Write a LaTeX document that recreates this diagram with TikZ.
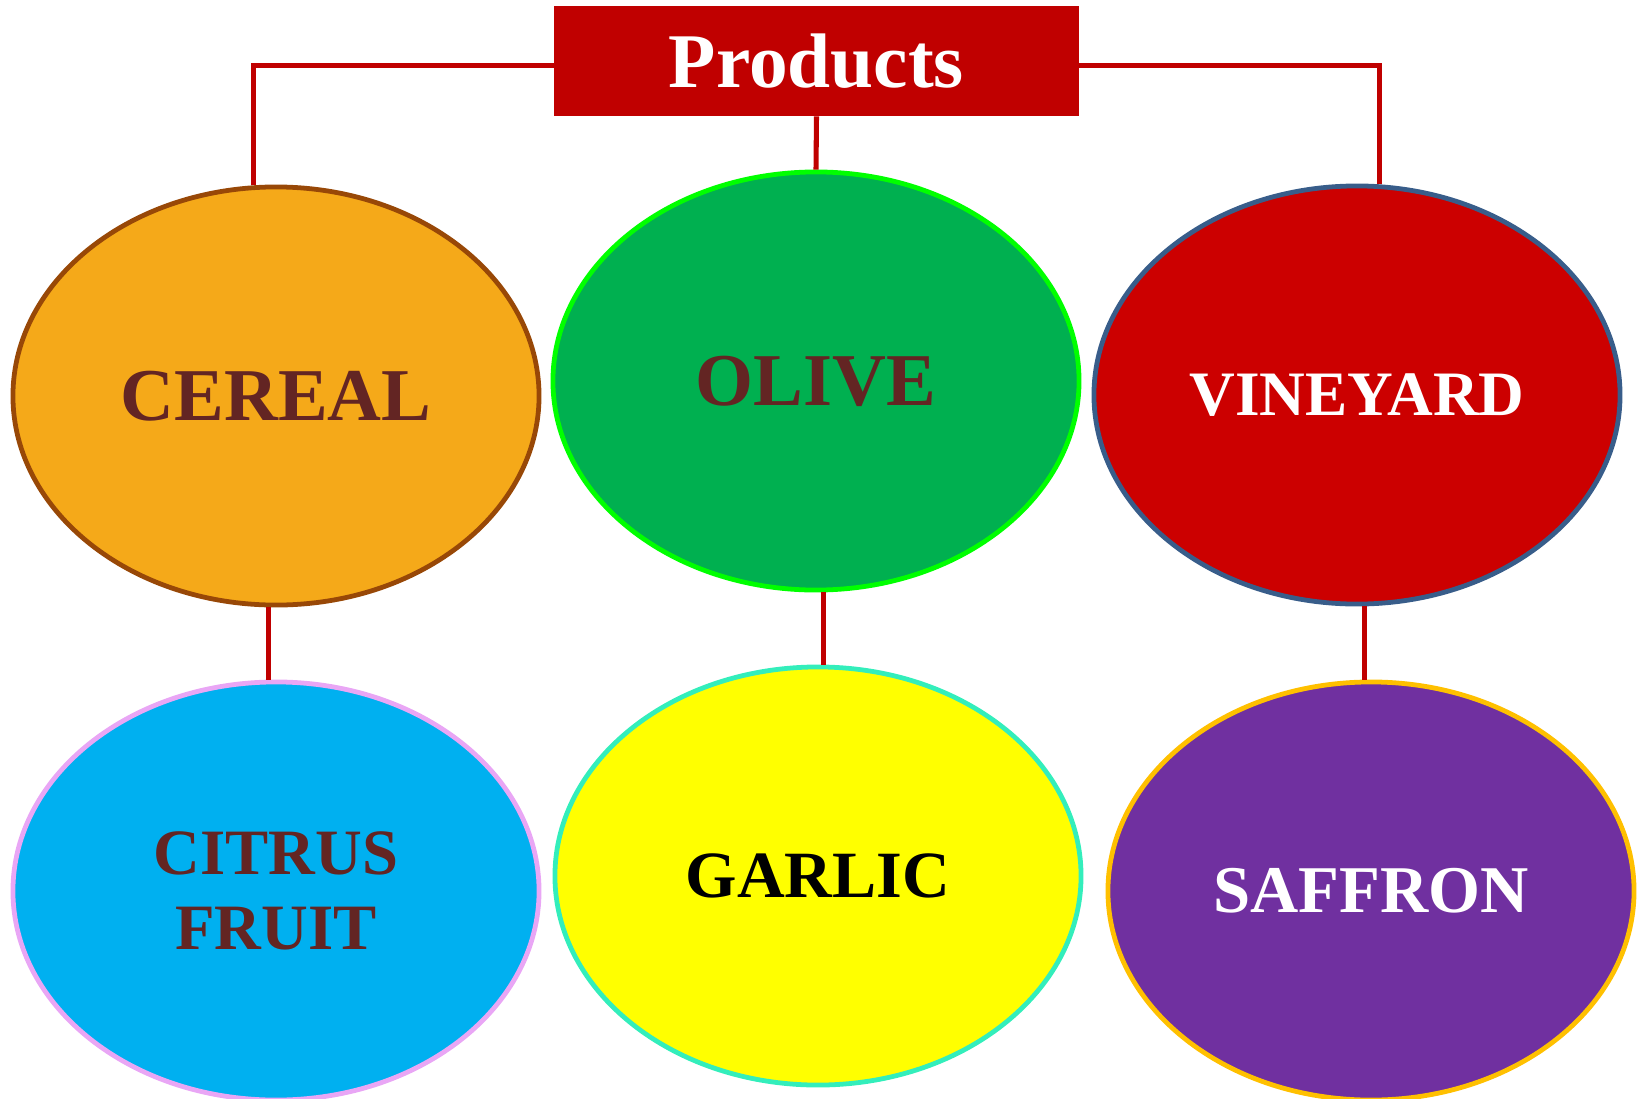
\documentclass[tikz,border=0pt]{standalone}
\usepackage{fontspec}
\setmainfont{Liberation Serif}
\usepackage{tikz}
\usetikzlibrary{shapes.geometric}

\definecolor{prodred}{HTML}{C00000}
\definecolor{brownText}{HTML}{632523}
\definecolor{cerealFill}{HTML}{F5A919}
\definecolor{cerealEdge}{HTML}{984807}
\definecolor{oliveFill}{HTML}{00B050}
\definecolor{oliveEdge}{HTML}{00FF00}
\definecolor{vineFill}{HTML}{CC0000}
\definecolor{vineEdge}{HTML}{385D8A}
\definecolor{citrusFill}{HTML}{00B0F0}
\definecolor{citrusEdge}{HTML}{E9A6F5}
\definecolor{garlicFill}{HTML}{FFFF00}
\definecolor{garlicEdge}{HTML}{33EEBB}
\definecolor{saffFill}{HTML}{7030A0}
\definecolor{saffEdge}{HTML}{FFC000}

\newcommand{\bigbf}[1]{\bfseries\fontsize{#1}{1.16\dimexpr#1pt\relax}\selectfont}

\tikzset{
  crop/.style={ellipse, line width=3.4pt, minimum width=13.15cm, minimum height=10.45cm,
    inner sep=0pt, align=center},
  link/.style={prodred, line width=3.6pt},
}

\begin{document}
\begin{tikzpicture}[x=0.025cm,y=-0.025cm]
\useasboundingbox (0,0) rectangle (1640,1099);
\node[fill=prodred, minimum width=13.125cm, minimum height=2.75cm, text=white,
  font=\bigbf{55}] (prod) at (816.5,61) {Products};
\node[crop, fill=cerealFill, draw=cerealEdge, text=brownText, font=\bigbf{53}] (cereal) at (276,396) {CEREAL};
\node[crop, fill=oliveFill, draw=oliveEdge, text=brownText, font=\bigbf{53}] (olive) at (816,381) {OLIVE};
\node[crop, fill=vineFill, draw=vineEdge, text=white, font=\bigbf{45}] (vine) at (1357,395) {VINEYARD};
\node[crop, fill=citrusFill, draw=citrusEdge, text=brownText, font=\bigbf{46}] (citrus) at (276,891) {CITRUS\\FRUIT};
\node[crop, fill=garlicFill, draw=garlicEdge, text=black, font=\bigbf{47}] (garlic) at (818,876) {GARLIC};
\node[crop, fill=saffFill, draw=saffEdge, text=white, font=\bigbf{47.5}] (saff) at (1371,891) {SAFFRON};
% links
\draw[link] ([yshift=-0.12cm]prod.west) -| (cereal.96);
\draw[link] ([yshift=-0.12cm]prod.east) -| (vine.84);
\draw[link] (prod.south) -- (olive.north);
\draw[link] (cereal.268) -- (cereal.268 |- citrus.north);
\draw[link] (olive.272) -- (olive.272 |- garlic.north);
\draw[link] (vine.272) -- (vine.272 |- saff.north);
\end{tikzpicture}
\end{document}
